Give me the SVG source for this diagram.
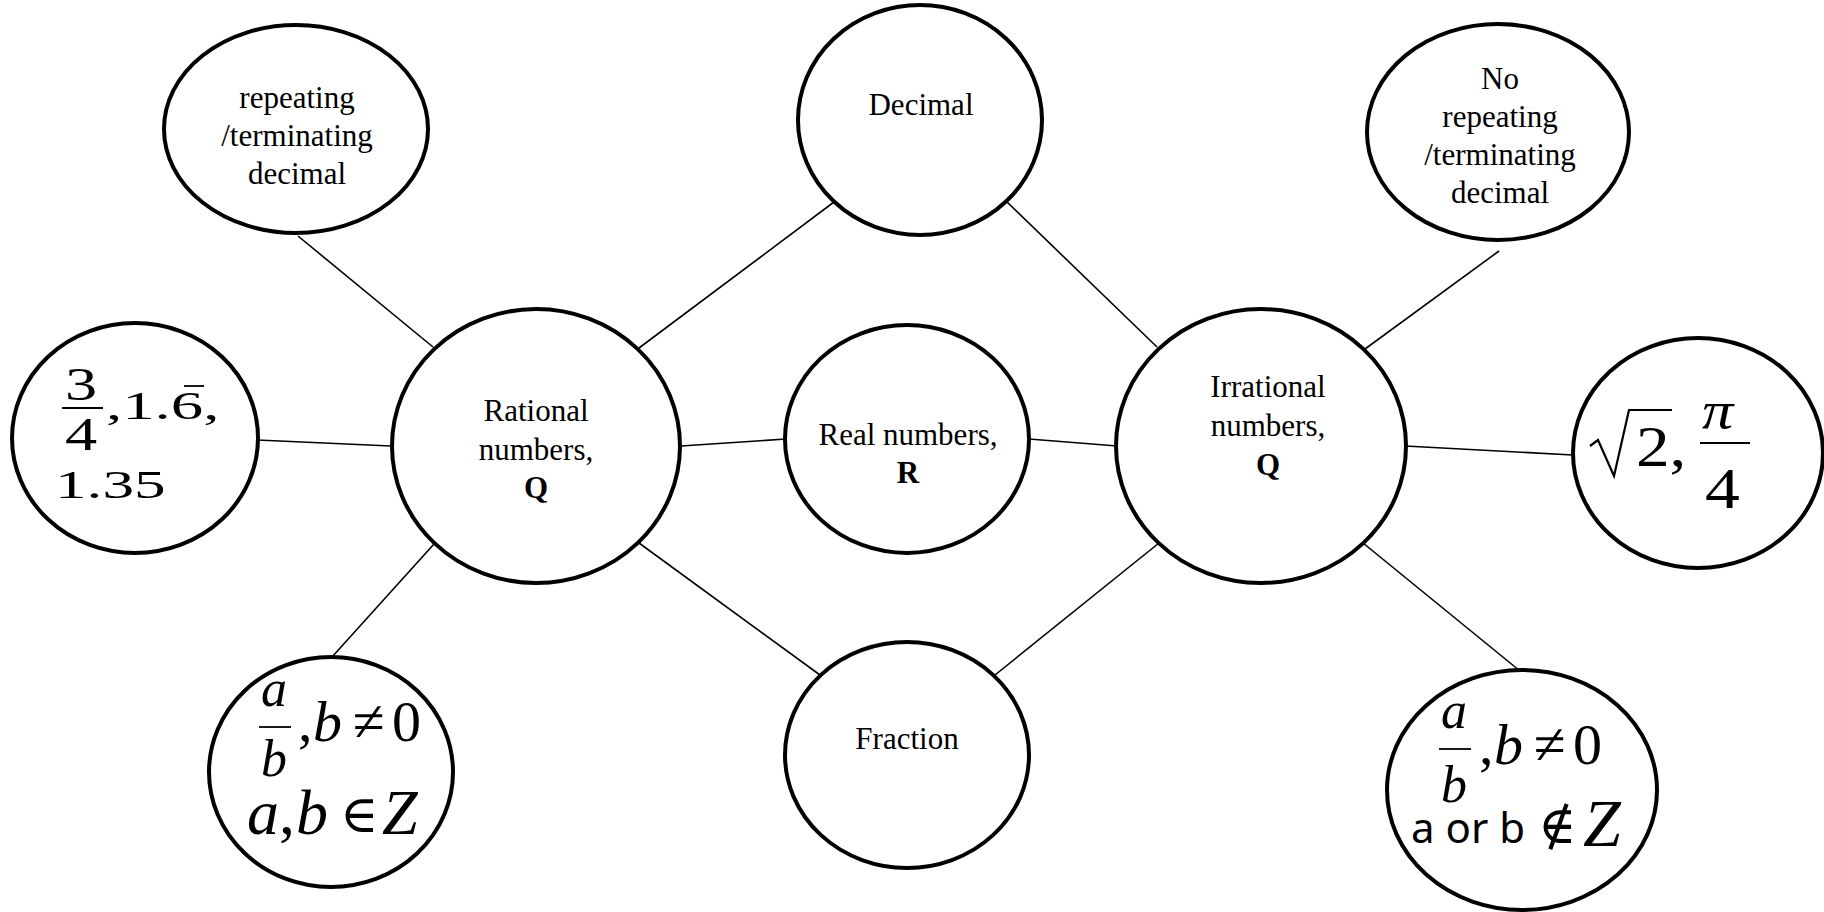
<svg xmlns="http://www.w3.org/2000/svg" width="1824" height="912" viewBox="0 0 1824 912">
<style>
.n{fill:#fff;stroke:#000;stroke-width:4}
.c line{stroke:#000;stroke-width:1.6}
.t{font-family:"Liberation Serif","Times New Roman",serif;font-size:31px;fill:#000;text-anchor:middle}
.b{font-weight:bold}
.m{font-family:"Liberation Serif","Times New Roman",serif;fill:#000}
.d{font-family:"DejaVu Serif",serif;fill:#000}
.i{font-style:italic}
.s{font-family:"Noto Sans","Open Sans",sans-serif;fill:#000}
.bar{stroke:#000;stroke-width:1.8}
</style>
<rect width="1824" height="912" fill="#fff"/>
<g id="connectors" class="c">
<line x1="298" y1="236" x2="433" y2="347"/>
<line x1="834" y1="202" x2="639" y2="348"/>
<line x1="1007" y1="202" x2="1157" y2="347"/>
<line x1="1499" y1="251" x2="1365" y2="349"/>
<line x1="257" y1="440" x2="391" y2="446"/>
<line x1="681" y1="446" x2="786" y2="439"/>
<line x1="1029" y1="439" x2="1117" y2="446"/>
<line x1="1405" y1="446" x2="1573" y2="455"/>
<line x1="434" y1="544" x2="332" y2="657"/>
<line x1="639" y1="543" x2="820" y2="675"/>
<line x1="1159" y1="543" x2="995" y2="675"/>
<line x1="1363" y1="543" x2="1520" y2="671"/>
</g>
<g id="rational">
<ellipse class="n" cx="536" cy="446" rx="144" ry="137"/>
<text class="t" x="536" y="421">Rational</text>
<text class="t" x="536" y="460">numbers,</text>
<text class="t b" x="536" y="498">Q</text>
</g>
<g id="irrational">
<ellipse class="n" cx="1261" cy="446" rx="145" ry="137"/>
<text class="t" x="1268" y="397">Irrational</text>
<text class="t" x="1268" y="436">numbers,</text>
<text class="t b" x="1268" y="475">Q</text>
</g>
<g id="real">
<ellipse class="n" cx="907" cy="439" rx="122" ry="114"/>
<text class="t" x="908" y="445">Real numbers,</text>
<text class="t b" x="908" y="483">R</text>
</g>
<g id="decimal">
<ellipse class="n" cx="920" cy="120" rx="122" ry="115"/>
<text class="t" x="921" y="115">Decimal</text>
</g>
<g id="fraction">
<ellipse class="n" cx="907" cy="755" rx="122" ry="113"/>
<text class="t" x="907" y="749">Fraction</text>
</g>
<g id="repeating">
<ellipse class="n" cx="296" cy="129" rx="132" ry="104"/>
<text class="t" x="297" y="108">repeating</text>
<text class="t" x="297" y="146">/terminating</text>
<text class="t" x="297" y="184">decimal</text>
</g>
<g id="norepeating">
<ellipse class="n" cx="1498" cy="132" rx="131" ry="108"/>
<text class="t" x="1500" y="89">No</text>
<text class="t" x="1500" y="127">repeating</text>
<text class="t" x="1500" y="165">/terminating</text>
<text class="t" x="1500" y="203">decimal</text>
</g>
<g id="rational-examples">
<ellipse class="n" cx="135" cy="438" rx="123" ry="115"/>
<text class="m" font-size="46" transform="translate(65,400) scale(1.4,1)">3</text>
<line class="bar" x1="62" y1="408" x2="103" y2="408"/>
<text class="m" font-size="46" transform="translate(65,450) scale(1.4,1)">4</text>
<text class="m" font-size="40" transform="translate(106,419) scale(1.62,1)">,1.6,</text>
<line class="bar" x1="184" y1="386" x2="204" y2="386"/>
<text class="m" font-size="40" transform="translate(55,498) scale(1.58,1)">1.35</text>
</g>
<g id="irrational-examples">
<ellipse class="n" cx="1698" cy="453" rx="125" ry="115"/>
<path d="M1590,446 L1598,440 L1614,476 L1629,410 L1672,410" fill="none" stroke="#000" stroke-width="2.2"/>
<text class="m" font-size="56" transform="translate(1636,466) scale(1.2,1)">2,</text>
<text class="m i" font-size="52" transform="translate(1702,428) scale(1.2,1)">π</text>
<line class="bar" x1="1700" y1="443" x2="1750" y2="443"/>
<text class="m" font-size="58" transform="translate(1705,508) scale(1.2,1)">4</text>
</g>
<g id="rational-definition">
<ellipse class="n" cx="331" cy="772" rx="122" ry="115"/>
<text class="m i" font-size="52" x="261" y="706">a</text>
<line class="bar" x1="259" y1="727" x2="291" y2="727"/>
<text class="m i" font-size="52" x="261" y="776">b</text>
<text class="m" font-size="58" x="298" y="741">,</text>
<text class="m i" font-size="58" x="313" y="741">b</text>
<text class="m" font-size="58" x="353" y="741">≠</text>
<text class="m" font-size="58" x="392" y="741">0</text>
<text class="m i" font-size="64" x="247" y="834">a</text>
<text class="m" font-size="64" x="279" y="834">,</text>
<text class="m i" font-size="64" x="296" y="834">b</text>
<text class="d" font-size="52" x="340" y="832">∈</text>
<text class="m i" font-size="64" x="382" y="834">Z</text>
</g>
<g id="irrational-definition">
<ellipse class="n" cx="1522" cy="790" rx="135" ry="120"/>
<text class="m i" font-size="52" x="1441" y="728">a</text>
<line class="bar" x1="1439" y1="749" x2="1471" y2="749"/>
<text class="m i" font-size="52" x="1441" y="802">b</text>
<text class="m" font-size="58" x="1479" y="764">,</text>
<text class="m i" font-size="58" x="1494" y="764">b</text>
<text class="m" font-size="58" x="1534" y="764">≠</text>
<text class="m" font-size="58" x="1573" y="764">0</text>
<text class="s" font-size="42" x="1411" y="843">a or b</text>
<text class="d" font-size="52" x="1538" y="843">∉</text>
<text class="m i" font-size="68" x="1583" y="846">Z</text>
</g>
</svg>
